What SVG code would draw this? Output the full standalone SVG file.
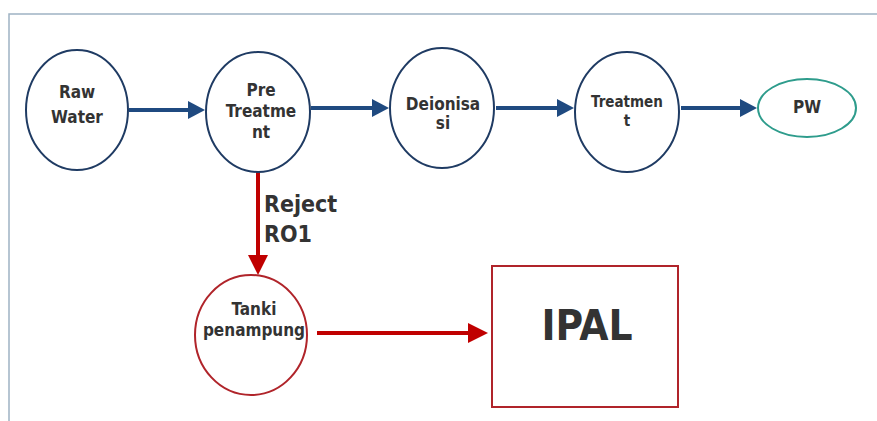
<svg xmlns="http://www.w3.org/2000/svg" width="877" height="421" viewBox="0 0 877 421">
<style>
.node{fill:#fff;stroke:#1f3b63;stroke-width:2}
.t{font-family:"DejaVu Sans Condensed","DejaVu Sans",sans-serif;font-stretch:condensed;font-weight:bold;fill:#333;text-anchor:middle}
.blue{stroke:#1f4a80;stroke-width:4;fill:none}
.red{stroke:#c00000;stroke-width:4;fill:none}
</style>
<defs>
<marker id="ab" viewBox="0 0 17 18" refX="9" refY="9" markerWidth="17" markerHeight="18" markerUnits="userSpaceOnUse" orient="auto"><path d="M0,0L17,9L0,18z" fill="#1f4a80"/></marker>
<marker id="ar" viewBox="0 0 20 20" refX="12" refY="10" markerWidth="20" markerHeight="20" markerUnits="userSpaceOnUse" orient="auto"><path d="M0,0L20,10L0,20z" fill="#c00000"/></marker>
</defs>
<rect width="877" height="421" fill="#fff"/>
<path d="M9,421V14H877" fill="none" stroke="#9fb3c3" stroke-width="1.5"/>
<g id="connectors">
<line class="blue" x1="129" y1="110" x2="197" y2="110" marker-end="url(#ab)"/>
<line class="blue" x1="311" y1="108" x2="381" y2="108" marker-end="url(#ab)"/>
<line class="blue" x1="496" y1="108" x2="566" y2="108" marker-end="url(#ab)"/>
<line class="blue" x1="681" y1="108" x2="749" y2="108" marker-end="url(#ab)"/>
<line class="red" x1="258" y1="172" x2="258" y2="267" marker-end="url(#ar)"/>
<line class="red" x1="317" y1="333" x2="480" y2="333" marker-end="url(#ar)"/>
<text class="t" x="264" y="212" font-size="23" style="text-anchor:start">Reject</text>
<text class="t" x="264" y="242" font-size="23" style="text-anchor:start">RO1</text>
</g>
<g id="raw">
<ellipse class="node" cx="77" cy="110" rx="51" ry="60"/>
<text class="t" x="77" y="98" font-size="17">Raw</text>
<text class="t" x="77" y="123" font-size="17">Water</text>
</g>
<g id="pre">
<ellipse class="node" cx="258" cy="112" rx="52" ry="60"/>
<text class="t" x="261" y="96" font-size="17">Pre</text>
<text class="t" x="261" y="117" font-size="17">Treatme</text>
<text class="t" x="261" y="138" font-size="17">nt</text>
</g>
<g id="deion">
<ellipse class="node" cx="442" cy="108" rx="52" ry="60"/>
<text class="t" x="443" y="110" font-size="17">Deionisa</text>
<text class="t" x="443" y="129" font-size="17">si</text>
</g>
<g id="treat">
<ellipse class="node" cx="627" cy="112" rx="52" ry="60"/>
<text class="t" x="627" y="107" font-size="15">Treatmen</text>
<text class="t" x="627" y="126" font-size="15">t</text>
</g>
<g id="pw">
<ellipse cx="807" cy="108" rx="49" ry="29" fill="#fff" stroke="#2e9c8c" stroke-width="2"/>
<text class="t" x="807" y="113" font-size="17">PW</text>
</g>
<g id="tanki">
<ellipse cx="251" cy="335" rx="56" ry="60" fill="#fff" stroke="#b0242a" stroke-width="2"/>
<text class="t" x="254" y="315" font-size="17">Tanki</text>
<text class="t" x="254" y="336" font-size="17">penampung</text>
</g>
<g id="ipal">
<rect x="492" y="266" width="186" height="141" fill="#fff" stroke="#b0242a" stroke-width="2"/>
<text class="t" x="587" y="340" font-size="42">IPAL</text>
</g>
</svg>
